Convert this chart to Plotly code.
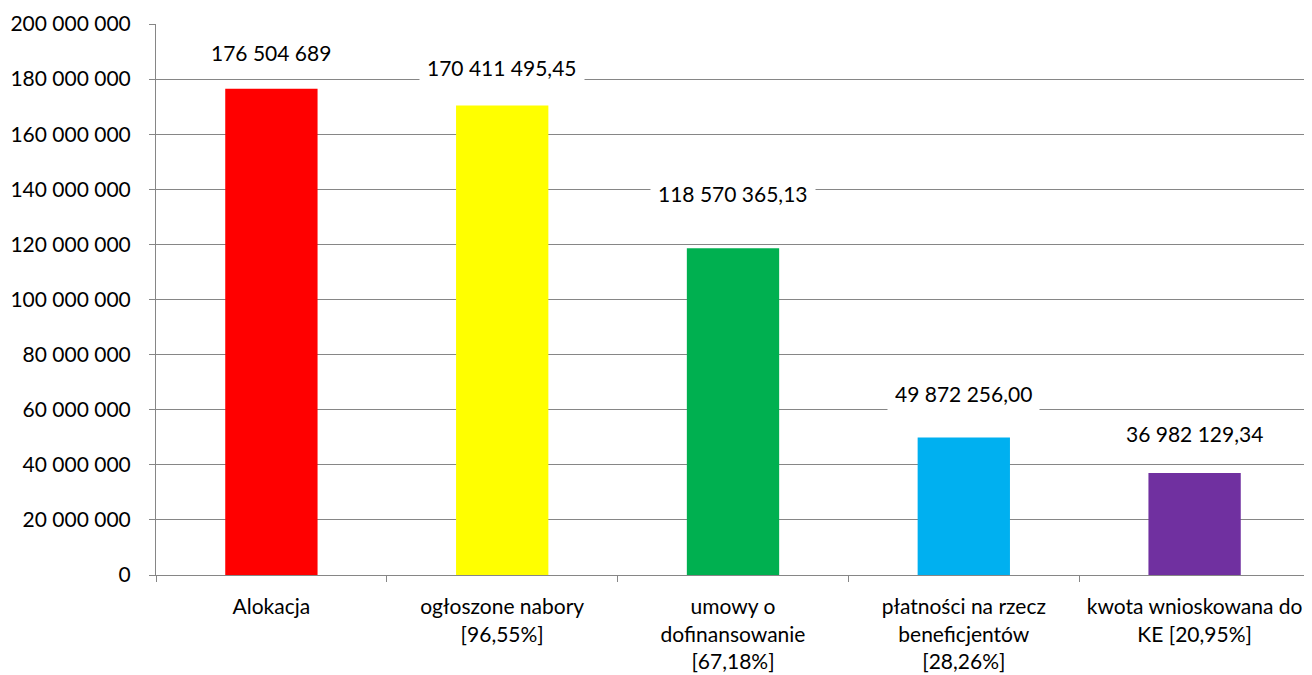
import plotly.graph_objects as go

categories = ["Alokacja", "ogłoszone nabory<br>[96,55%]", "umowy o<br>dofinansowanie<br>[67,18%]",
              "płatności na rzecz<br>beneficjentów<br>[28,26%]", "kwota wnioskowana do<br>KE [20,95%]"]
values = [176504689, 170411495.45, 118570365.13, 49872256.00, 36982129.34]
value_labels = ["176 504 689", "170 411 495,45", "118 570 365,13", "49 872 256,00", "36 982 129,34"]
colors = ["#FF0000", "#FFFF00", "#00B050", "#00B0F0", "#7030A0"]
label_shifts = [16, 18, 34, 24, 19]

tick_vals = [0, 20e6, 40e6, 60e6, 80e6, 100e6, 120e6, 140e6, 160e6, 180e6, 200e6]
tick_text = ["0", "20 000 000", "40 000 000", "60 000 000", "80 000 000", "100 000 000",
             "120 000 000", "140 000 000", "160 000 000", "180 000 000", "200 000 000"]

FONT = "Lato"
FS = 21
fig = go.Figure(go.Bar(x=list(range(len(categories))), y=values, marker_color=colors,
                       marker_line_width=0, width=0.4, hoverinfo="skip"))

for i, (v, t, s) in enumerate(zip(values, value_labels, label_shifts)):
    fig.add_annotation(x=i, y=v, text=t, showarrow=False, yanchor="bottom", yshift=s,
                       bgcolor="white", borderpad=7, font=dict(family=FONT, size=FS, color="black"))

fig.update_layout(
    width=1304, height=667,
    margin=dict(l=145, r=2, t=14, b=93),
    plot_bgcolor="white", paper_bgcolor="white",
    showlegend=False,
    font=dict(family=FONT, size=FS, color="black"),
)
fig.update_xaxes(
    range=[-0.5, 4.5],
    tickmode="array", tickvals=list(range(len(categories))), ticktext=categories,
    showgrid=False, showline=True, linecolor="#868686", linewidth=1,
    ticks="", ticklabelstandoff=13,
)
fig.update_xaxes(minor=dict(tickmode="array", tickvals=[-0.5, 0.5, 1.5, 2.5, 3.5, 4.5],
                            ticks="outside", ticklen=6, tickcolor="#868686", showgrid=False))
fig.update_yaxes(
    range=[0, 200e6], tickmode="array", tickvals=tick_vals, ticktext=tick_text,
    showgrid=True, gridcolor="#868686", gridwidth=1,
    showline=True, linecolor="#868686", linewidth=1,
    ticks="outside", ticklen=6, tickcolor="#868686", ticklabelstandoff=14,
    zeroline=False,
)
fig.write_html("out.html")
